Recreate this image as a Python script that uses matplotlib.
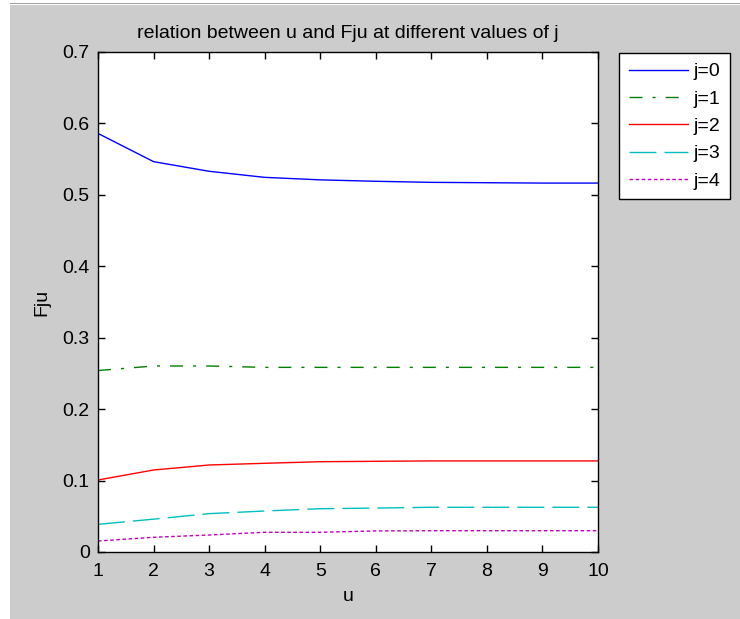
import matplotlib
matplotlib.use("Agg")
import matplotlib.pyplot as plt
from matplotlib.patches import Rectangle

plt.rcParams['font.family'] = ['Liberation Sans', 'DejaVu Sans']

u = [1, 2, 3, 4, 5, 6, 7, 8, 9, 10]
j0 = [0.586, 0.5465, 0.533, 0.5245, 0.521, 0.519, 0.5175, 0.517, 0.5165, 0.5165]
j1 = [0.254, 0.2604, 0.2604, 0.2585, 0.2585, 0.2585, 0.2585, 0.2585, 0.2585, 0.2585]
j2 = [0.1008, 0.1148, 0.1218, 0.1242, 0.1264, 0.127, 0.1275, 0.1275, 0.1275, 0.1275]
j3 = [0.0387, 0.046, 0.0537, 0.0574, 0.0606, 0.0615, 0.0626, 0.0626, 0.0626, 0.0626]
j4 = [0.0154, 0.0206, 0.0238, 0.0276, 0.0276, 0.0295, 0.0298, 0.0298, 0.0298, 0.0298]
series = [j0, j1, j2, j3, j4]
labels = ["j=0", "j=1", "j=2", "j=3", "j=4"]
colors = ["#0000ff", "#008000", "#ff0000", "#00bfbf", "#bf00bf"]
styles = ["-", (0, (9.4, 7.2, 2.2, 7.2)), "-", (0, (19.4, 5.8)), (0, (2.6, 1.8))]
xticks = [1, 2, 3, 4, 5, 6, 7, 8, 9, 10]
yticks = [0, 0.1, 0.2, 0.3, 0.4, 0.5, 0.6, 0.7]
ylabels = ["0", "0.1", "0.2", "0.3", "0.4", "0.5", "0.6", "0.7"]

W, H = 740, 619
fig = plt.figure(figsize=(W/100, H/100), dpi=100, facecolor="white")
fig.patches.append(Rectangle((10/W, 0), (W-10)/W, (H-5)/H, transform=fig.transFigure,
                             facecolor="#cccccc", edgecolor="none", zorder=-10))
fig.patches.append(Rectangle((10/W, (H-4)/H), (W-10)/W, 1.5/H, transform=fig.transFigure,
                             facecolor="#a0a0a0", edgecolor="none", zorder=-10))

ax = fig.add_axes([98/W, (H-552)/H, 500/W, 500/H])
ax.set_facecolor("white")
fs = 14
for s, lab, c, ls in zip(series, labels, colors, styles):
    ax.plot(u, s, linestyle=ls, color=c, linewidth=1.0, label=lab)
ax.set_xlim(1, 10)
ax.set_ylim(0, 0.7)
ax.set_xticks(xticks)
ax.set_xticklabels([str(t) for t in xticks])
ax.set_yticks(yticks)
ax.set_yticklabels(ylabels)
ax.tick_params(direction="in", length=5, width=1, top=True, right=True,
               labelsize=fs, colors="black")
ax.tick_params(axis="x", pad=8)
ax.tick_params(axis="y", pad=6)
for sp in ax.spines.values():
    sp.set_linewidth(1)
ax.set_xlabel("u", fontsize=fs, labelpad=6)
ax.set_ylabel("Fju", fontsize=fs, labelpad=9)
ax.set_title("relation between u and Fju at different values of j", fontsize=fs, pad=10)

leg = fig.legend(loc="upper left", bbox_to_anchor=(619/W, 1-53/H), fontsize=fs,
                 frameon=True, fancybox=False, edgecolor="black", framealpha=1,
                 handlelength=3.05, labelspacing=0.5, borderpad=0.5, handletextpad=0.3,
                 borderaxespad=0)
leg.get_frame().set_linewidth(1)

fig.savefig("out.png", dpi=100, facecolor=fig.get_facecolor())
